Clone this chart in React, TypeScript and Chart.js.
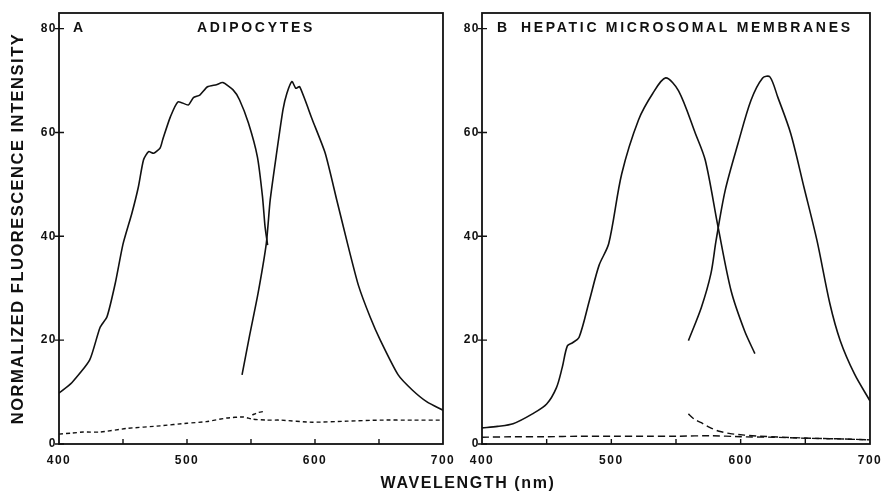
import React, { useEffect, useRef } from 'react';
import { Chart, registerables } from 'chart.js';

Chart.register(...registerables);

const FONT = '"Liberation Sans", Arial, Helvetica, sans-serif';
const INK = '#111111';

// ---------- Panel A: adipocytes ----------
const aExcX = [400, 410, 424, 432, 437.5, 444, 450, 457, 462, 466, 470, 474, 479, 481, 487, 493, 501, 505, 510, 516, 523, 528, 536, 541, 548, 555, 559, 561, 563];
const aExcY = [9.8, 11.8, 16.2, 22.4, 24.5, 31, 38.5, 44.5, 49.5, 54.7, 56.3, 56, 57, 58.6, 63, 65.9, 65.3, 66.7, 67.2, 68.8, 69.2, 69.6, 68.2, 66.3, 61.8, 55.3, 47.6, 41.8, 38.3];

const aEmX = [543, 549, 555.5, 562, 565, 570, 575, 578, 582, 585, 588, 598, 608, 617, 626, 634, 643, 651, 665, 676, 687.5, 700];
const aEmY = [13.3, 21, 29, 38.7, 47, 56, 64.4, 67.5, 69.8, 68.5, 68.8, 62.4, 56, 47, 38, 30.5, 24.5, 20, 13.3, 10.4, 8.1, 6.5];

const aBaseX = [400, 410, 419, 432, 453, 479, 500, 515, 531, 544, 551, 562, 573, 598, 625, 651, 677, 700];
const aBaseY = [1.9, 2.1, 2.3, 2.3, 3.0, 3.5, 4.0, 4.3, 5.0, 5.2, 4.8, 4.6, 4.6, 4.2, 4.4, 4.6, 4.6, 4.6];

const aBlipX = [551, 556, 561];
const aBlipY = [5.6, 6.1, 6.3];

// ---------- Panel B: hepatic microsomal membranes ----------
const bExcX = [400, 412, 424, 439, 450, 457.5, 462, 466, 470, 475, 483, 490.5, 498, 508, 521, 532, 542, 552, 565, 572.7, 582.6, 592.6, 603, 611];
const bExcY = [3.1, 3.4, 3.9, 5.8, 7.7, 10.8, 14.7, 18.9, 19.5, 20.5, 27.6, 34.4, 38.6, 52, 62.4, 67.5, 70.5, 68, 59.8, 54.6, 41.7, 29.5, 21.8, 17.4];

const bEmX = [559.6, 569.6, 577, 581, 588, 598, 608, 617, 622.6, 628.7, 638.7, 649, 659, 669, 677, 688, 700];
const bEmY = [19.9, 26.3, 32.8, 39.2, 48.8, 57.9, 66.2, 70.5, 70.7, 66.8, 59.8, 49.4, 39.2, 27, 19.9, 13.5, 8.3];

const bBaseX = [400, 425, 450, 475, 500, 525, 552, 577, 600, 625, 650, 675, 700];
const bBaseY = [1.3, 1.4, 1.4, 1.5, 1.5, 1.5, 1.5, 1.6, 1.4, 1.3, 1.1, 1.0, 0.8];

const bTailX = [559.6, 564, 569.6, 576, 582.6, 592, 603, 615, 628.7, 654, 680, 700];
const bTailY = [5.8, 4.8, 4.1, 3.2, 2.5, 2.0, 1.7, 1.5, 1.35, 1.1, 0.95, 0.8];

// ---------- axes ----------
const xMin = 400;
const xMax = 700;
const xStep = 50;
const yMin = 0;
const yMax = 83;
const yStep = 20;
const yTitle = 'NORMALIZED FLUORESCENCE INTENSITY';
const xTitle = 'WAVELENGTH (nm)';

const pts = (xs: number[], ys: number[]) => xs.map((x, i) => ({ x, y: ys[i] }));

const solid = (xs: number[], ys: number[], tension = 0.2) => ({
  data: pts(xs, ys),
  borderColor: INK,
  borderWidth: 1.6,
  pointRadius: 0,
  tension,
  borderJoinStyle: 'round' as const,
  fill: false,
});
const dashed = (xs: number[], ys: number[], dash: number[]) => ({
  ...solid(xs, ys),
  borderWidth: 1.4,
  borderDash: dash,
});

const framePlugin = {
  id: 'panelFrame',
  beforeDraw(chart: any) {
    chart.ctx.letterSpacing = '1.5px';
  },
  afterDraw(chart: any, _args: any, opts: any) {
    const { ctx, chartArea, scales } = chart;
    const { left, right, top, bottom } = chartArea;
    const x = scales.x;
    const y = scales.y;
    ctx.save();
    ctx.strokeStyle = INK;
    ctx.lineWidth = 1.8;
    ctx.strokeRect(left, top, right - left, bottom - top);
    ctx.lineWidth = 1.4;
    ctx.beginPath();
    for (const t of x.ticks) {
      if (t.value <= x.min || t.value >= x.max) continue;
      const px = x.getPixelForValue(t.value);
      ctx.moveTo(px, bottom);
      ctx.lineTo(px, bottom - 5);
    }
    for (const t of y.ticks) {
      const py = y.getPixelForValue(t.value);
      ctx.moveTo(left - 4, py);
      ctx.lineTo(left + 5, py);
    }
    ctx.stroke();
    ctx.fillStyle = INK;
    ctx.font = `bold 14px ${FONT}`;
    ctx.letterSpacing = '2.7px';
    ctx.textBaseline = 'middle';
    ctx.textAlign = 'left';
    const ly = y.getPixelForValue(80);
    ctx.fillText(opts.letter, left + opts.letterDx, ly);
    ctx.fillText(opts.title, left + opts.titleDx, ly);
    ctx.restore();
  },
};

function makeConfig(datasets: any[], yAxisWidth: number, padRight: number, showYTitle: boolean, letter: string, title: string, letterDx: number, titleDx: number) {
  return {
    type: 'line' as const,
    data: { datasets },
    plugins: [framePlugin],
    options: {
      animation: false as const,
      responsive: false,
      devicePixelRatio: 1,
      layout: { padding: { top: 13, right: padRight, left: 0, bottom: 0 } },
      plugins: {
        legend: { display: false },
        tooltip: { enabled: false },
        panelFrame: { letter, title, letterDx, titleDx },
      },
      scales: {
        x: {
          type: 'linear' as const,
          min: xMin,
          max: xMax,
          afterFit: (s: any) => { s.height = 47; },
          grid: { display: true, drawOnChartArea: false, drawTicks: false },
          border: { display: false },
          ticks: {
            stepSize: xStep,
            autoSkip: false,
            maxRotation: 0,
            includeBounds: false,
            padding: 9,
            color: INK,
            font: { family: FONT, size: 12, weight: 'bold' as const },
            callback: (v: any) => (Number(v) % 100 === 0 ? String(v) : ''),
          },
        },
        y: {
          type: 'linear' as const,
          min: yMin,
          max: yMax,
          afterFit: (s: any) => { s.width = yAxisWidth; },
          grid: { display: true, drawOnChartArea: false, drawTicks: false },
          border: { display: false },
          ticks: {
            stepSize: yStep,
            includeBounds: false,
            padding: 2,
            color: INK,
            font: { family: FONT, size: 12, weight: 'bold' as const },
          },
          title: {
            display: showYTitle,
            text: yTitle,
            color: INK,
            padding: { top: 9, bottom: 0 },
            font: { family: FONT, size: 16.5, weight: 'bold' as const },
          },
        },
      },
    },
  };
}

export default function App() {
  const refA = useRef<HTMLCanvasElement | null>(null);
  const refB = useRef<HTMLCanvasElement | null>(null);

  useEffect(() => {
    const chartA = new Chart(
      refA.current as HTMLCanvasElement,
      makeConfig(
        [solid(aExcX, aExcY), solid(aEmX, aEmY), dashed(aBaseX, aBaseY, [4, 3]), dashed(aBlipX, aBlipY, [4, 3])],
        59, 19, true, 'A', 'ADIPOCYTES', 14, 138
      ) as any
    );
    const chartB = new Chart(
      refB.current as HTMLCanvasElement,
      makeConfig(
        [solid(bExcX, bExcY, 0.3), solid(bEmX, bEmY, 0.3), dashed(bBaseX, bBaseY, [7, 4]), dashed(bTailX, bTailY, [7, 4])],
        27, 16, false, 'B', 'HEPATIC MICROSOMAL MEMBRANES', 15, 39
      ) as any
    );
    return () => {
      chartA.destroy();
      chartB.destroy();
    };
  }, []);

  return (
    <div style={{ position: 'absolute', left: 0, top: 0, width: 889, height: 491, background: '#fff', overflow: 'hidden' }}>
      <canvas ref={refA} width={462} height={491} style={{ position: 'absolute', left: 0, top: 0, width: 462, height: 491 }} />
      <canvas ref={refB} width={434} height={491} style={{ position: 'absolute', left: 455, top: 0, width: 434, height: 491 }} />
      <div
        style={{
          position: 'absolute',
          left: 318,
          top: 473,
          width: 300,
          textAlign: 'center',
          fontFamily: FONT,
          fontWeight: 'bold',
          fontSize: 16,
          lineHeight: '20px',
          letterSpacing: '1.6px',
          color: INK,
        }}
      >
        {xTitle}
      </div>
    </div>
  );
}
